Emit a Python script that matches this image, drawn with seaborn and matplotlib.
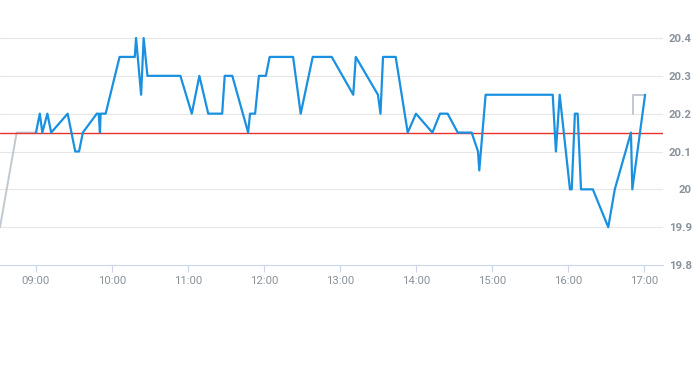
import matplotlib
matplotlib.use("Agg")
import matplotlib.pyplot as plt
import matplotlib.dates as mdates
import seaborn as sns
import pandas as pd

DAY = "2024-01-02 "

blue_times = ["09:00:00", "09:03:00", "09:05:00", "09:09:00", "09:12:00", "09:25:00",
              "09:31:00", "09:34:00", "09:37:00", "09:48:00", "09:49:30", "09:50:30",
              "09:51:00", "09:55:00", "10:06:00", "10:18:00", "10:19:00", "10:23:00",
              "10:25:00", "10:28:00", "10:54:00", "11:03:00", "11:09:00", "11:16:00",
              "11:27:00", "11:29:00", "11:35:00", "11:47:30", "11:49:00", "11:53:00",
              "11:56:00", "12:01:30", "12:04:30", "12:23:00", "12:29:00", "12:38:30",
              "12:53:30", "13:10:30", "13:12:30", "13:30:00", "13:32:00", "13:34:00",
              "13:44:00", "13:53:30", "14:00:00", "14:13:00", "14:19:00", "14:25:00",
              "14:33:00", "14:44:00", "14:49:00", "14:50:00", "14:55:00", "15:48:00",
              "15:50:30", "15:53:30", "16:01:36", "16:03:00", "16:05:30", "16:07:40",
              "16:10:20", "16:19:40", "16:31:50", "16:37:00", "16:49:45", "16:50:50",
              "17:00:55"]
blue_values = [20.15, 20.20, 20.15, 20.20, 20.15, 20.20,
               20.10, 20.10, 20.15, 20.20, 20.20, 20.15,
               20.20, 20.20, 20.35, 20.35, 20.40, 20.25,
               20.40, 20.30, 20.30, 20.20, 20.30, 20.20,
               20.20, 20.30, 20.30, 20.15, 20.20, 20.20,
               20.30, 20.30, 20.35, 20.35, 20.20, 20.35,
               20.35, 20.25, 20.35, 20.25, 20.20, 20.35,
               20.35, 20.15, 20.20, 20.15, 20.20, 20.20,
               20.15, 20.15, 20.10, 20.05, 20.25, 20.25,
               20.10, 20.25, 20.00, 20.00, 20.20, 20.20,
               20.00, 20.00, 19.90, 20.00, 20.15, 20.00,
               20.25]

gray_start_times = ["08:31:35", "08:44:45", "09:00:30"]
gray_start_values = [19.90, 20.15, 20.15]
gray_end_times = ["16:51:35", "16:51:35", "17:00:55"]
gray_end_values = [20.20, 20.25, 20.25]

reference_level = 20.15
y_ticks = [19.8, 19.9, 20.0, 20.1, 20.2, 20.3, 20.4]
y_tick_labels = ["19.8", "19.9", "20", "20.1", "20.2", "20.3", "20.4"]
x_tick_labels = ["09:00", "10:00", "11:00", "12:00", "13:00", "14:00", "15:00", "16:00", "17:00"]

blue_df = pd.DataFrame({"time": pd.to_datetime([DAY + t for t in blue_times]), "value": blue_values})
gs_df = pd.DataFrame({"time": pd.to_datetime([DAY + t for t in gray_start_times]), "value": gray_start_values})
ge_df = pd.DataFrame({"time": pd.to_datetime([DAY + t for t in gray_end_times]), "value": gray_end_values})

sns.set_style("white")
plt.rcParams["font.family"] = ["Roboto", "DejaVu Sans"]

W, H = 693, 365
fig = plt.figure(figsize=(W / 100, H / 100), dpi=100)
ymin, ymax = 19.8, 20.42
px_per_unit = (265 - 38) / 0.6
top_px = 265 - (ymax - ymin) * px_per_unit
ax = fig.add_axes([0, (H - 265) / H, 663.3 / W, (265 - top_px) / H])

grid_c = "#e6e6e6"
label_c = "#8a929c"
for yt in y_ticks[1:]:
    ax.axhline(yt, color=grid_c, lw=0.8, zorder=0)

sns.lineplot(data=gs_df, x="time", y="value", estimator=None, sort=False,
             color="#c2c8cf", lw=1.4, ax=ax, zorder=2)
sns.lineplot(data=ge_df, x="time", y="value", estimator=None, sort=False,
             color="#c2c8cf", lw=1.4, ax=ax, zorder=2)
ax.axhline(reference_level, color="#e8332c", lw=1.0, zorder=3)
sns.lineplot(data=blue_df, x="time", y="value", estimator=None, sort=False,
             color="#1a90e0", lw=1.6, ax=ax, zorder=4)

ax.set_xlim(pd.Timestamp(DAY + "08:31:35"), pd.Timestamp(DAY + "17:15:18"))
ax.set_ylim(ymin, ymax)

xt = pd.to_datetime([DAY + t for t in x_tick_labels])
ax.set_xticks(xt)
ax.set_xticklabels(x_tick_labels, fontsize=8.2, color=label_c)
ax.tick_params(axis="x", length=5, width=0.8, color="#ccd6eb", pad=3, bottom=True)

ax.yaxis.tick_right()
ax.set_yticks(y_ticks)
ax.set_yticklabels(y_tick_labels, fontsize=8.2, color=label_c, fontweight="bold")
ax.tick_params(axis="y", length=0, pad=20.6, right=True, left=False)
for lab in ax.get_yticklabels():
    lab.set_horizontalalignment("right")

for s in ["top", "left", "right"]:
    ax.spines[s].set_visible(False)
ax.spines["bottom"].set_color("#ccd6eb")
ax.spines["bottom"].set_linewidth(0.8)
ax.set_xlabel("")
ax.set_ylabel("")
ax.grid(False)

fig.savefig("out.png", dpi=100)
